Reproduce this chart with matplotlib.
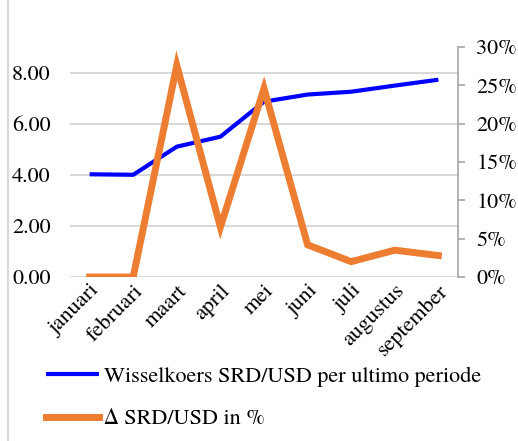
import matplotlib
matplotlib.use("Agg")
import matplotlib.pyplot as plt
from matplotlib.lines import Line2D
from matplotlib.ticker import FuncFormatter

months = ["januari", "februari", "maart", "april", "mei", "juni", "juli", "augustus", "september"]
koers = [4.02, 4.00, 5.10, 5.49, 6.86, 7.14, 7.25, 7.49, 7.72]
delta_pct = [0.0, 0.0, 27.6, 6.5, 24.6, 4.2, 2.0, 3.5, 2.8]
left_ticks = [0, 2, 4, 6, 8]
right_ticks = [0, 5, 10, 15, 20, 25, 30]

FAM = ['TeX Gyre Termes', 'Liberation Serif', 'DejaVu Serif']
plt.rcParams['font.family'] = FAM

fig = plt.figure(figsize=(5.18, 4.41), dpi=100)
ax = fig.add_axes([70/518, 1-277/441, (458-70)/518, (277-47)/441])
ax2 = ax.twinx()

x = list(range(len(months)))
blue = "#0000FF"
orange = "#ED7D31"
l1, = ax.plot(x, koers, color=blue, lw=3, solid_capstyle='butt', zorder=3)
l2, = ax2.plot(x, delta_pct, color=orange, lw=5, solid_joinstyle='miter', zorder=3)

ax.set_xlim(-0.45, 8.45)
ax.set_ylim(0, 9)
ax2.set_ylim(0, 30)
ax.set_yticks(left_ticks)
ax.yaxis.set_major_formatter(FuncFormatter(lambda v, p: f"{v:.2f}"))
ax2.set_yticks(right_ticks)
ax2.yaxis.set_major_formatter(FuncFormatter(lambda v, p: f"{int(v)}%"))
ax.grid(axis='y', color='#D9D9D9', lw=1.5)
ax.set_axisbelow(True)

for a in (ax, ax2):
    for s in a.spines.values():
        s.set_visible(False)
ax2.spines['right'].set_visible(True)
ax2.spines['right'].set_color('#A6A6A6')
ax2.spines['right'].set_linewidth(1.2)
ax2.tick_params(axis='y', direction='out', length=5, width=1.2, color='#A6A6A6', labelsize=16, pad=8)
ax.tick_params(axis='y', length=0, labelsize=16, pad=14)
ax.tick_params(axis='x', length=0, labelsize=16, pad=3)
ax.set_xticks(x)
ax.set_xticklabels(months, rotation=45, ha='right', rotation_mode='anchor')
for t in ax.get_xticklabels() + ax.get_yticklabels() + ax2.get_yticklabels():
    t.set_family(FAM)

fig.add_artist(Line2D([8/518, 8/518], [0, 1], color='#D9D9D9', lw=1.5))

leg = fig.legend([l1, l2], ["Wisselkoers SRD/USD per ultimo periode", "\u0394 SRD/USD in %"],
           loc='upper left', bbox_to_anchor=(46/518, 1-366/441), frameon=False,
           prop={'family': FAM, 'size': 16}, handlelength=2.4, handletextpad=0.2, labelspacing=1.0,
           borderpad=0, borderaxespad=0)

fig.savefig("out.png", dpi=100)
